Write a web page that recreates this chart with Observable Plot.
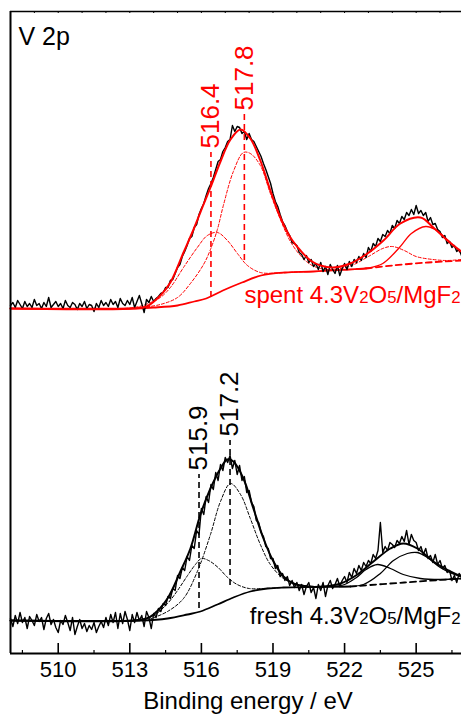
<!DOCTYPE html>
<html>
<head>
<meta charset="utf-8">
<script src="https://cdn.jsdelivr.net/npm/d3@7"></script>
<script src="https://cdn.jsdelivr.net/npm/@observablehq/plot@0.6"></script>
<style>
  html, body { margin: 0; padding: 0; background: #fff; overflow: hidden; }
  #chart svg { display: block; }
</style>
</head>
<body>
<div id="chart"></div>
<script>
// V 2p XPS region of fresh and spent 4.3V2O5/MgF2.
// Intensities are in arbitrary units above each spectrum's own baseline.

// Measured spectra on a common binding-energy grid (eV)
const energyStart = 508.0;
const energyStep = 0.1;

const spentRaw = [
  4, 7, 2, 9, 5, 1, 8, 3, 6, 2,
  10, 4, 6, 1, 7, 3, 12, 2, 5, 8,
  3, 6, 1, 9, 4, 2, 7, 5, 0, 6,
  3, 8, 1, 5, 4, -2, 6, 2, 9, 4,
  7, 3, 10, 5, 8, 2, 11, 6, 4, 9,
  5, 12, 2, 8, 14, 6, -3, 10, 7, 13,
  8, 11, 13, 16, 17, 22, 22, 29, 30, 36,
  42, 45, 53, 58, 64, 71, 73, 82, 85, 95,
  101, 106, 114, 121, 126, 132, 140, 148, 150, 158,
  162, 168, 170, 184, 178, 183, 182, 176, 178, 170,
  176, 170, 168, 163, 158, 153, 146, 140, 133, 126,
  116, 108, 103, 95, 88, 84, 78, 74, 67, 66,
  64, 57, 55, 50, 54, 47, 50, 43, 46, 40,
  47, 38, 43, 35, 45, 40, 36, 44, 34, 41,
  46, 40, 48, 43, 50, 47, 53, 49, 56, 52,
  62, 58, 66, 63, 71, 68, 75, 73, 79, 76,
  84, 81, 89, 86, 93, 90, 97, 94, 100, 95,
  104, 96, 99, 94, 97, 88, 92, 85, 86, 80,
  78, 72, 74, 66, 68, 62, 64, 58, 60, 54
];

const freshRaw = [
  2, -6, 5, -3, 8, -2, 3, -8, 4, 0,
  -5, 6, -1, 3, -9, 2, 7, -4, 1, -7,
  -12, 0, -4, 5, -2, -10, 3, -14, -6, 1,
  -8, -3, -11, -5, -9, -2, -12, -6, -1, -7,
  3, -5, 6, -2, 8, -8, 7, -3, 9, 1,
  -10, 6, -2, 8, 0, 5, -6, 9, 3, -8,
  7, 3, 12, 9, 17, 15, 24, 22, 32, 30,
  45, 42, 53, 50, 64, 60, 75, 72, 90, 86,
  112, 106, 124, 118, 136, 131, 148, 140, 156, 150,
  163, 158, 165, 152, 160, 146, 155, 140, 144, 128,
  130, 118, 114, 100, 98, 88, 84, 74, 72, 62,
  62, 52, 55, 44, 47, 40, 44, 35, 40, 33,
  38, 30, 36, 26, 34, 38, 28, 33, 22, 36,
  30, 38, 24, 35, 40, 32, 36, 42, 34, 40,
  44, 38, 48, 43, 52, 47, 55, 50, 58, 54,
  60, 57, 66, 62, 70, 98, 68, 74, 70, 78,
  76, 73, 80, 77, 84, 79, 90, 76, 86, 80,
  78, 70, 74, 66, 72, 62, 65, 58, 66, 56,
  60, 52, 55, 48, 50, 40, 45, 38, 47, 44
];

// Fitted curves: [binding energy, intensity]; components sit on the background
const spentEnvelope = [[508, 1], [513.15, 1], [513.7, 3], [514.28, 14], [514.7, 27], [515.25, 57], [515.67, 80], [516.09, 105], [516.38, 122], [516.8, 148], [517.22, 170], [517.64, 180], [518.05, 171], [518.47, 149], [518.89, 119], [519.31, 92], [519.73, 72], [520.15, 59], [520.57, 49], [520.99, 44], [521.53, 42], [522.24, 46], [522.96, 56], [523.63, 69], [524.34, 86], [525.18, 92], [525.72, 82], [526.31, 69], [526.89, 58]];
const spentBackground = [[508, 1], [513, 1], [514, 2], [515, 4], [515.7, 8], [516.2, 11], [516.9, 19], [517.7, 27], [518.5, 34], [519.5, 37], [520.7, 38], [522.2, 40], [522.9, 41]];
const spentBackgroundTail = [[522.9, 41], [524, 44], [525.5, 47], [526.9, 49]];
const spentV4 = [[512.8, 1], [513.4, 3], [513.87, 7], [514.28, 12], [514.7, 22], [515.25, 42], [515.83, 62], [516.25, 74], [516.67, 77], [517.09, 69], [517.51, 56], [517.93, 44], [518.47, 37], [519.19, 36.5], [520, 37.5], [520.7, 38]];
const spentV5 = [[513.5, 2], [514.28, 5], [515, 12], [515.54, 26], [516.09, 45], [516.38, 60], [516.67, 80], [516.92, 104], [517.34, 138], [517.76, 157], [518.05, 156], [518.47, 144], [518.89, 116], [519.31, 90], [519.73, 68], [520.15, 54], [520.57, 45], [521, 41], [521.6, 39.5]];
const spentV4Half = [[521, 38.5], [521.6, 40], [522.3, 44], [523, 53], [523.6, 61], [524, 63], [524.5, 59], [525, 53], [525.7, 50], [526.3, 49], [526.9, 50]];
const spentV5Half = [[522.5, 40.5], [523, 41.5], [523.6, 46], [524.3, 62], [524.8, 76], [525.4, 83], [525.8, 80], [526.3, 70], [526.9, 56]];

const freshEnvelope = [[508, 0], [513.2, 0], [513.7, 2], [513.99, 6], [514.58, 22], [515.12, 49], [515.54, 72], [515.96, 106], [516.38, 132], [516.8, 152], [517.09, 161], [517.34, 159], [517.76, 142], [518.18, 112], [518.6, 82], [519.02, 59], [519.44, 44], [519.86, 37], [520.44, 34], [521.11, 34], [521.83, 37], [522.54, 46], [523.21, 59], [523.92, 72], [524.46, 77], [525.05, 72], [525.72, 59], [526.43, 49], [526.89, 44]];
const freshBackground = [[508, 0], [513.5, 0], [514.58, 2], [515.42, 6], [515.96, 9], [516.67, 16], [517.34, 23], [518.05, 29], [518.77, 32], [519.44, 33], [520.86, 33.5], [522.24, 34]];
const freshBackgroundTail = [[522.24, 34], [524.5, 38], [526.89, 42]];
const freshV4 = [[512.8, 0], [513.5, 1], [514, 5], [514.58, 17], [515, 30], [515.42, 45], [515.75, 56], [516, 62], [516.3, 60], [516.7, 53], [517.1, 43], [517.5, 36], [518, 32], [518.6, 32], [519.4, 33]];
const freshV5 = [[513.8, 1], [514.58, 9], [515.25, 22], [515.83, 49], [516.38, 86], [516.8, 119], [517.22, 137], [517.64, 126], [518.05, 102], [518.47, 76], [518.89, 56], [519.44, 42], [520.02, 36], [520.8, 34]];
const freshV4Half = [[521.45, 34], [522, 36], [522.5, 43], [522.9, 51], [523.38, 56], [523.92, 52], [524.46, 46], [525.18, 42], [526, 41], [526.89, 42]];
const freshV5Half = [[521.8, 34], [522.79, 36], [523.5, 47], [524.05, 60], [524.63, 67], [525.05, 68], [525.47, 63], [526.01, 53], [526.5, 47], [526.89, 44]];

// Peak positions (eV) and the span of their marker lines
const spentPeaks = [516.4, 517.8];
const spentPeakLow = [12, 49];
const spentPeakHigh = [157, 195];
const freshPeaks = [515.9, 517.2];
const freshPeakLow = [12, 35];
const freshPeakHigh = [146, 180];

// Vertical stacking of the two spectra
const spentOffset = 344;
const freshOffset = 33;

const spentLabel = "spent 4.3V2O5/MgF2";
const freshLabel = "fresh 4.3V2O5/MgF2";
const regionLabel = "V 2p";
const xTitle = "Binding energy / eV";

const xMajor = [510, 513, 516, 519, 522, 525];
const xMinor = [508.5, 511.5, 514.5, 517.5, 520.5, 523.5, 526.5];
const xTop = [509, 510, 511, 512, 513, 514, 515, 516, 517, 518, 519, 520, 521, 522, 523, 524, 525, 526];

const RED = "#ff0000";
const INK = "#000000";
const FONT = "'Liberation Sans', Arial, Helvetica, sans-serif";

const ev = d => d[0];
const rawEnergy = (d, i) => energyStart + i * energyStep;

function curve(data, offset, opts) {
  return Plot.line(data, {x: ev, y: d => d[1] + offset, curve: "catmull-rom", ...opts});
}

function spectrum(raw, offset, fit, color, compColor) {
  const {envelope, background, tail, v4, v5, v4Half, v5Half, halfDashed} = fit;
  const thinDash = {stroke: compColor, strokeWidth: 1, strokeDasharray: "3,2"};
  const thinSolid = {stroke: compColor, strokeWidth: 1.3};
  return [
    curve(background, offset, {stroke: color, strokeWidth: 1.8}),
    curve(tail, offset, {stroke: color, strokeWidth: 1.8, strokeDasharray: "6,4"}),
    curve(v4, offset, thinDash),
    curve(v5, offset, thinDash),
    curve(v4Half, offset, halfDashed ? thinDash : thinSolid),
    curve(v5Half, offset, thinSolid),
    Plot.line(raw, {x: rawEnergy, y: d => d + offset, stroke: INK, strokeWidth: 1.4}),
    curve(envelope, offset, {stroke: color, strokeWidth: 2})
  ];
}

function peakMarkers(peaks, low, high, offset, color) {
  return [
    Plot.ruleX(peaks, {
      x: d => d,
      y1: (d, i) => low[i] + offset,
      y2: (d, i) => high[i] + offset,
      stroke: color, strokeWidth: 1.6, strokeDasharray: "6,4"
    }),
    Plot.text(peaks, {
      x: d => d,
      y: (d, i) => high[i] + offset,
      text: d => d.toFixed(1),
      rotate: -90, textAnchor: "start", dy: -4,
      fill: color, fontSize: 26
    })
  ];
}

const chart = Plot.plot({
  width: 461,
  height: 723,
  marginLeft: 10,
  marginRight: 0,
  marginTop: 11,
  marginBottom: 70,
  style: {fontFamily: FONT, background: "#fff", overflow: "visible"},
  x: {domain: [508, 526.9], axis: null},
  y: {domain: [0, 642], axis: null},
  marks: [
    ...spectrum(spentRaw, spentOffset, {
      envelope: spentEnvelope, background: spentBackground, tail: spentBackgroundTail,
      v4: spentV4, v5: spentV5, v4Half: spentV4Half, v5Half: spentV5Half, halfDashed: true
    }, RED, RED),
    ...spectrum(freshRaw, freshOffset, {
      envelope: freshEnvelope, background: freshBackground, tail: freshBackgroundTail,
      v4: freshV4, v5: freshV5, v4Half: freshV4Half, v5Half: freshV5Half, halfDashed: false
    }, INK, INK),
    ...peakMarkers(spentPeaks, spentPeakLow, spentPeakHigh, spentOffset, RED),
    ...peakMarkers(freshPeaks, freshPeakLow, freshPeakHigh, freshOffset, INK),

    // spectrum names, right aligned just above each baseline
    Plot.text([spentLabel], {frameAnchor: "right", y: () => spentOffset, text: d => d,
      textAnchor: "end", lineAnchor: "bottom", dy: -7, dx: -1, fill: RED, fontSize: 24}),
    Plot.text([freshLabel], {frameAnchor: "right", y: () => freshOffset, text: d => d,
      textAnchor: "end", lineAnchor: "bottom", dy: 3, dx: -1, fill: INK, fontSize: 24}),
    Plot.text([regionLabel], {frameAnchor: "top-left", text: d => d,
      textAnchor: "start", lineAnchor: "top", dx: 8, dy: 16, fontSize: 25}),

    // frame: left, bottom and top edges with inward ticks
    Plot.ruleX([508], {strokeWidth: 2}),
    Plot.ruleY([0], {strokeWidth: 2}),
    Plot.ruleY([642], {strokeWidth: 1.5}),
    Plot.ruleX(xMajor, {x: d => d, insetTop: 632, strokeWidth: 1.6}),
    Plot.ruleX(xMinor, {x: d => d, insetTop: 639, strokeWidth: 1.2}),
    Plot.ruleX(xTop, {x: d => d, insetBottom: 640, strokeWidth: 1}),

    // bottom axis labels and title
    Plot.text(xMajor, {x: d => d, text: d => String(d), frameAnchor: "bottom", dy: 23, fontSize: 22}),
    Plot.text([xTitle], {frameAnchor: "bottom", text: d => d, dx: 12, dy: 55, fontSize: 24})
  ]
});

// Chemical formulas: digits that follow an element symbol become subscripts
chart.querySelectorAll("text").forEach(t => {
  const s = t.textContent;
  if (!/V2O5/.test(s)) return;
  const size = parseFloat(getComputedStyle(t).fontSize) || 24;
  t.textContent = "";
  const re = /([A-Za-z])(\d+)/g;
  let last = 0, m;
  const add = (str, sub) => {
    const ts = document.createElementNS("http://www.w3.org/2000/svg", "tspan");
    ts.textContent = str;
    if (sub) ts.setAttribute("font-size", (size * 0.7).toFixed(1));
    t.appendChild(ts);
  };
  while ((m = re.exec(s))) {
    add(s.slice(last, m.index + 1), false);
    add(m[2], true);
    last = m.index + m[0].length;
  }
  if (last < s.length) add(s.slice(last), false);
});

document.getElementById("chart").appendChild(chart);
</script>
</body>
</html>
